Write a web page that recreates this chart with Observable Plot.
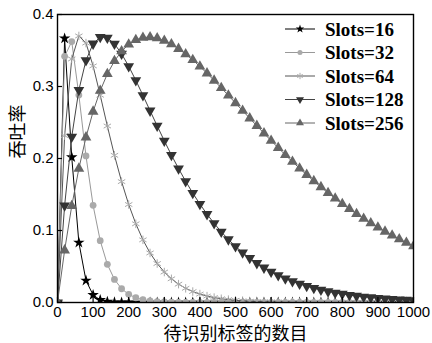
<!DOCTYPE html>
<html><head><meta charset="utf-8">
<script src="https://cdn.jsdelivr.net/npm/d3@7"></script>
<script src="https://cdn.jsdelivr.net/npm/@observablehq/plot@0.6"></script>
<style>body{margin:0;background:#fff} #chart{width:432px;height:343px}</style>
</head><body><div id="chart"></div>
<script>
const tagCounts = [0,20,40,60,80,100,120,140,160,180,200,220,240,260,280,300,320,340,360,380,400,420,440,460,480,500,520,540,560,580,600,620,640,660,680,700,720,740,760,780,800,820,840,860,880,900,920,940,960,980,1000];
const slots16 = [0,0.3668,0.2018,0.0833,0.0305,0.0105,0.0035,0.0011,0.00035,0.0001,0.00003,0,0,0,0,0,0,0,0,0,0,0,0,0,0,0,0,0,0,0,0,0,0,0,0,0,0,0,0,0,0,0,0,0,0,0,0,0,0,0,0];
const slots32 = [0,0.3419,0.3624,0.2881,0.2036,0.1349,0.0858,0.0530,0.0321,0.0191,0.0113,0.0066,0.0038,0.0022,0.0012,0.0007,0.0004,0.0002,0.0001,0.0001,0.00004,0,0,0,0,0,0,0,0,0,0,0,0,0,0,0,0,0,0,0,0,0,0,0,0,0,0,0,0,0,0];
const slots64 = [0,0.2317,0.3382,0.3702,0.3603,0.3286,0.2879,0.2451,0.2044,0.1679,0.1361,0.1093,0.0870,0.0688,0.0541,0.0423,0.0329,0.0255,0.0197,0.0152,0.0117,0.0089,0.0068,0.0052,0.0040,0.0030,0.0023,0.0017,0.0013,0.0010,0.00075,0.00057,0.00043,0.00032,0.00024,0.00018,0.00014,0.0001,0.00008,0.00006,0.00004,0.00003,0.00002,0.00002,0.00001,0,0,0,0,0,0];
const slots128 = [0,0.1346,0.2302,0.2951,0.3363,0.3594,0.3687,0.3677,0.3592,0.3454,0.3281,0.3085,0.2877,0.2664,0.2453,0.2246,0.2048,0.1860,0.1684,0.1519,0.1367,0.1227,0.1099,0.0982,0.0876,0.0780,0.0693,0.0616,0.0546,0.0483,0.0427,0.0377,0.0333,0.0294,0.0259,0.0228,0.0200,0.0176,0.0154,0.0135,0.0119,0.0104,0.0091,0.0080,0.0070,0.0061,0.0053,0.0047,0.0041,0.0035,0.0031];
const slots256 = [0,0.0725,0.1341,0.1860,0.2294,0.2652,0.2942,0.3174,0.3354,0.3490,0.3585,0.3647,0.3679,0.3686,0.3670,0.3636,0.3587,0.3524,0.3450,0.3368,0.3278,0.3183,0.3083,0.2981,0.2876,0.2770,0.2664,0.2558,0.2454,0.2350,0.2248,0.2148,0.2050,0.1955,0.1863,0.1773,0.1687,0.1603,0.1522,0.1445,0.1370,0.1299,0.1230,0.1165,0.1102,0.1042,0.0985,0.0931,0.0879,0.0830,0.0783];
const seriesNames = ["Slots=16","Slots=32","Slots=64","Slots=128","Slots=256"];
const xTicks = [0,100,200,300,400,500,600,700,800,900,1000];
const yTicks = [0,0.1,0.2,0.3,0.4];
const xLabel = "待识别标签的数目";
const yLabel = "吞吐率";

const seriesValues = [slots16, slots32, slots64, slots128, slots256];
const table = seriesNames.flatMap((name, i) => tagCounts.map((n, j) => ({series: name, n, v: seriesValues[i][j]})));

const downTriangle = {draw(ctx, size) {
  const y = -Math.sqrt(size / (Math.sqrt(3) * 3));
  ctx.moveTo(0, -y * 2);
  ctx.lineTo(-Math.sqrt(3) * y, y);
  ctx.lineTo(Math.sqrt(3) * y, y);
  ctx.closePath();
}};
const styles = [
  {line: "#000", fill: "#000", stroke: "none", symbol: "star", r: 3.6, d3sym: d3.symbolStar},
  {line: "#999", fill: "#aaa", stroke: "none", symbol: "circle", r: 3.4, d3sym: d3.symbolCircle},
  {line: "#555", fill: "none", stroke: "#aaa", symbol: "asterisk", r: 4, d3sym: d3.symbolAsterisk},
  {line: "#444", fill: "#333", stroke: "none", symbol: downTriangle, r: 4, d3sym: downTriangle},
  {line: "#666", fill: "#666", stroke: "none", symbol: "triangle", r: 4, d3sym: d3.symbolTriangle}
];

const W = 432, H = 343, ML = 57, MR = 19, MT = 14, MB = 41;
const innerW = W - ML - MR, innerH = H - MT - MB;

const marks = [];
seriesNames.forEach((name, i) => {
  const s = styles[i];
  const data = table.filter(d => d.series === name);
  marks.push(Plot.line(data, {x: "n", y: "v", stroke: s.line, strokeWidth: 1}));
  marks.push(Plot.dot(data, {x: "n", y: "v", symbol: s.symbol, r: s.r, fill: s.fill, stroke: s.stroke, strokeWidth: 1, clip: true}));
});
marks.push(
  Plot.frame({stroke: "#000", strokeWidth: 1.4}),
  Plot.axisX({ticks: xTicks, tickSize: 0, tickPadding: 4, tickFormat: d => String(d), label: null, fontSize: 15}),
  Plot.axisY({ticks: yTicks, tickSize: 0, tickPadding: 4, tickFormat: ".1f", label: null, fontSize: 15}),
  Plot.tickX(xTicks, {x: d => d, insetTop: innerH - 5, stroke: "#000", strokeWidth: 1.2}),
  Plot.tickY(yTicks, {y: d => d, insetRight: innerW - 5, stroke: "#000", strokeWidth: 1.2}),
  Plot.text([xLabel], {text: d => d, frameAnchor: "bottom", dy: 37, fontSize: 18, fontFamily: "Noto Sans CJK SC", fill: "#000"}),
  Plot.text([yLabel], {text: d => d, frameAnchor: "left", dx: -39, rotate: -90, fontSize: 18, fontFamily: "Noto Sans CJK SC", fill: "#000"})
);

const chart = Plot.plot({
  width: W, height: H,
  marginLeft: ML, marginRight: MR, marginTop: MT, marginBottom: MB,
  x: {domain: [0, 1000]},
  y: {domain: [0, 0.4]},
  style: {fontFamily: "'Liberation Sans', Arial, sans-serif", fontSize: "15px", background: "#fff", color: "#000"},
  marks
});
document.getElementById("chart").append(chart);

// Legend inside the plot frame (upper right)
const svg = d3.select(chart);
const lg = svg.append("g").attr("transform", "translate(285,29)");
seriesNames.forEach((name, i) => {
  const s = styles[i];
  const g = lg.append("g").attr("transform", `translate(0,${i * 23.5})`);
  g.append("line").attr("x1", 0).attr("x2", 30).attr("y1", 0).attr("y2", 0).attr("stroke", s.line).attr("stroke-width", 1);
  g.append("path").attr("transform", "translate(15,0)")
    .attr("d", d3.symbol(s.d3sym, Math.PI * s.r * s.r * 0.55)())
    .attr("fill", s.fill).attr("stroke", s.stroke === "none" ? null : s.stroke);
  g.append("text").attr("x", 40).attr("y", 0).attr("dy", "0.35em").attr("text-anchor", "start")
    .attr("font-family", "'Liberation Serif', 'Times New Roman', serif").attr("font-weight", "bold")
    .attr("font-size", 19).attr("fill", "#000").text(name);
});
</script>
</body></html>
